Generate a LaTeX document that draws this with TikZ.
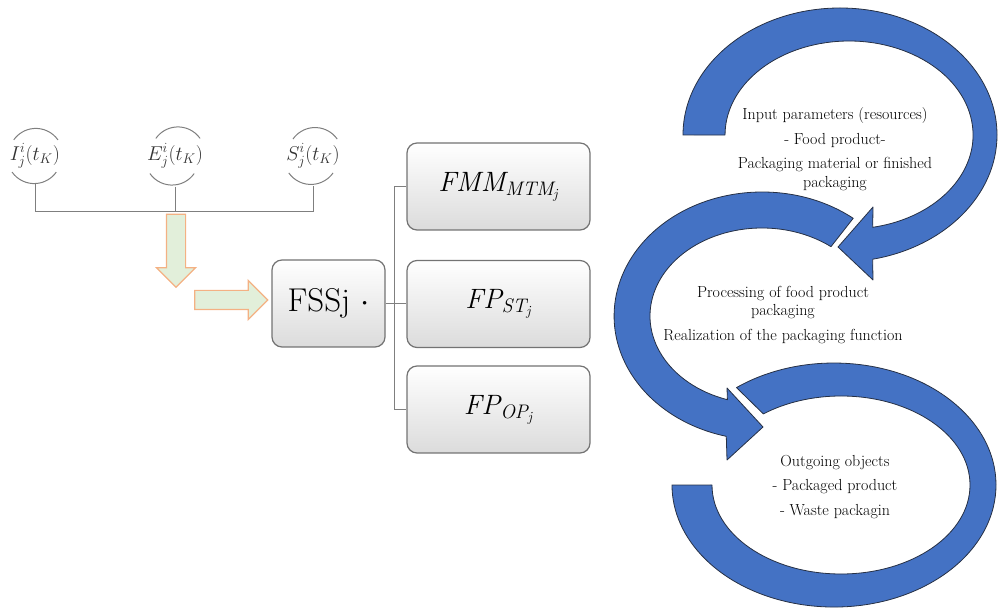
\RequirePackage{fix-cm}
\documentclass[tikz,border=0pt]{standalone}
\usepackage{amsmath}
\usepackage{fontspec}
\usepackage{tikz}
\usetikzlibrary{shapes.arrows}
\definecolor{ringblue}{RGB}{68,114,196}
\definecolor{ringedge}{RGB}{38,48,68}
\definecolor{arrfill}{RGB}{226,239,218}
\definecolor{arredge}{RGB}{244,177,131}
\definecolor{linkgray}{RGB}{127,127,127}
\definecolor{labgray}{RGB}{50,50,50}

\begin{document}
\begin{tikzpicture}[x=1pt, y=1pt,
    box/.style={rectangle, rounded corners=10pt, draw=black!55, line width=1.2pt, top color=white, bottom color=black!14, minimum width=183pt, minimum height=87pt, inner sep=0pt},
    tag/.style={circle, minimum size=54pt, inner sep=0pt, text=labgray, font=\fontsize{20}{23}\selectfont},
    rim/.style={draw=linkgray, line width=1pt},
    link/.style={draw=linkgray, line width=0.9pt},
    blockarr/.style={single arrow, single arrow head extend=10pt, minimum width=38pt, minimum height=73pt, inner sep=9pt, fill=arrfill, draw=arredge, line width=1.2pt},
    ring/.style={fill=ringblue, draw=ringedge, line width=0.8pt, line join=round},
    looptext/.style={align=center, text=black, font=\fontsize{16}{18.5}\selectfont}
]
    \useasboundingbox (0,0) rectangle (998,610);

    % state circles and their tree
    \node[tag] (ci) at (35,454)  {$I^{i}_{j}(t_K)$};
    \node[tag] (ce) at (175,454) {$E^{i}_{j}(t_K)$};
    \node[tag] (cs) at (313,454) {$S^{i}_{j}(t_K)$};
    \foreach \c in {ci,ce,cs} {
        \draw[rim] (\c.35) arc[start angle=35, end angle=145, radius=27];
        \draw[rim] (\c.215) arc[start angle=215, end angle=325, radius=27];
    }
    \draw[link] (ci.south) -- ++(0,-27) coordinate (jl) -- (jl -| cs.south) -- (cs.south);
    \draw[link] (ce.south) -- (ce.south |- jl);

    \node[blockarr, rotate=-90] (down) at (176,364) {};
    \node[blockarr] (right) at (226.5,310) {};

    % function boxes
    \node[box, minimum width=113pt] (fss) at (328.5,306.5) {\fontsize{33}{36}\selectfont FSSj $\cdot$};
    \node[box] (fmm)  at (498.5,423.5) {\fontsize{28}{32}\selectfont $\mathit{FMM}_{\mathit{MTM}_{\mathit{j}}}$};
    \node[box] (fpst) at (498.5,306)   {\fontsize{28}{32}\selectfont $\mathit{FP}_{\mathit{ST}_{\mathit{j}}}$};
    \node[box] (fpop) at (498.5,200.5) {\fontsize{28}{32}\selectfont $\mathit{FP}_{\mathit{OP}_{\mathit{j}}}$};
    \draw[link] (fss.east) -- (fss.east -| fpst.west);
    \draw[link] (fmm.west) -- ++(-12,0) |- (fpop.west);

    % cycle of the packaging system
    \draw[ring] (736.5,222.4) arc[start angle=127, end angle=-180, x radius=162, y radius=122]
        -- (712,125) arc[start angle=-180, end angle=127, x radius=129, y radius=89] -- cycle;
    \draw[ring] (853.2,391.7) arc[start angle=52, end angle=256, x radius=148, y radius=124]
        -- (727,150) -- (763,183) -- (727,222) -- (727.4,210.3)
        arc[start angle=252, end angle=52, x radius=112, y radius=88] -- cycle;
    \draw[ring] (683,475) arc[start angle=180, end angle=-78, x radius=157, y radius=127]
        -- (873,330) -- (838,363) -- (873,403) -- (872.7,382.7)
        arc[start angle=-79, end angle=180, x radius=124, y radius=94] -- cycle;

    \node[looptext] (inp) at (835,461) {Input parameters (resources)\\[6pt] - Food product-\\[6pt] Packaging material or finished\\ packaging};
    \node[looptext] (proc) at (783,295) {Processing of food product\\ packaging\\[6pt] Realization of the packaging function};
    \node[looptext] (outg) at (835,123) {Outgoing objects\\[6pt] - Packaged product\\[6pt] - Waste packagin};
\end{tikzpicture}
\end{document}
